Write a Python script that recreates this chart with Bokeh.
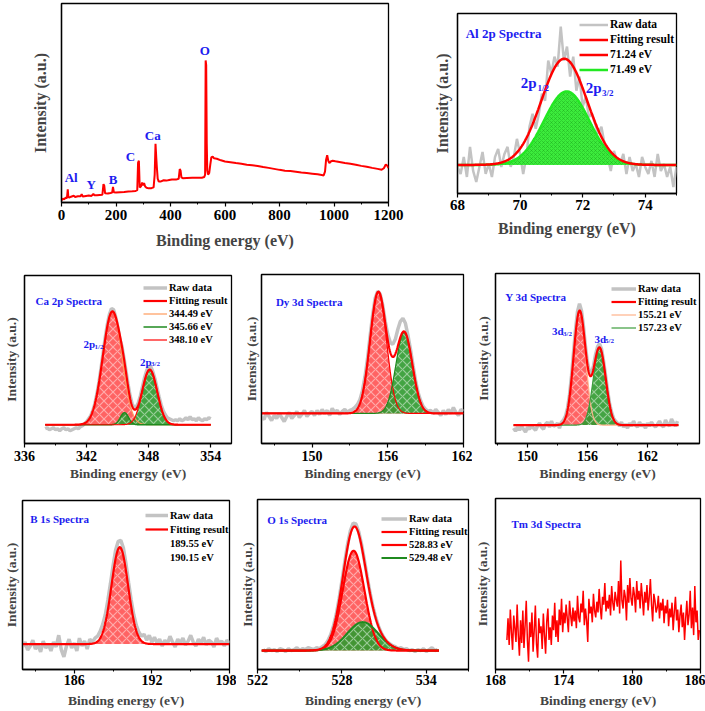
import numpy as np
from bokeh.plotting import figure
from bokeh.models import Range1d, Legend, LegendItem, Label, SingleIntervalTicker, FixedTicker
from bokeh.layouts import column, row
from bokeh.embed import file_html
from bokeh.resources import INLINE

FONT = "Liberation Serif"
RED = "#ff0000"
GRAY = "#c3c3c3"
BLUE = "#1c1cf0"
ORANGE = "#ff9a5c"
DKGREEN = "#1f8a1f"
LIME = "#22e822"
RED_FILL = "#ff5252"
GREEN_FILL = "#2f9a2f"

# ---------------- data: survey ----------------
SURVEY_E = [0, 5, 10, 15, 20, 23, 25, 28, 35, 45, 50, 60, 70, 74, 78, 90, 100, 110, 117, 121,
            130, 140, 150, 154, 157, 160, 170, 180, 186, 189, 192, 200, 215, 230, 245, 260, 272,
            278, 281, 284, 287, 292, 296, 299, 303, 307, 312, 320, 330, 338, 342, 345, 348, 350,
            353, 357, 365, 375, 385, 395, 405, 420, 430, 434, 437, 440, 445, 460, 480, 500, 515,
            524, 527, 529, 531, 533, 535, 538, 542, 546, 550, 555, 560, 570, 585, 600, 620, 640,
            660, 680, 700, 720, 740, 760, 780, 800, 820, 840, 860, 880, 900, 920, 940, 955, 962,
            967, 971, 975, 979, 983, 988, 995, 1005, 1020, 1040, 1060, 1080, 1100, 1120, 1140,
            1160, 1175, 1183, 1190, 1195, 1200]
SURVEY_I = [1.0, 2.0, 1.6, 2.4, 2.2, 6.6, 3.0, 2.4, 2.9, 3.4, 2.8, 3.1, 3.2, 4.2, 3.0, 3.3, 3.5,
            3.3, 4.3, 3.6, 3.7, 3.8, 3.9, 9.2, 8.4, 4.6, 4.5, 4.8, 5.0, 7.9, 5.2, 5.0, 5.2, 5.3,
            5.5, 5.6, 5.8, 6.2, 20.0, 21.0, 7.5, 8.2, 10.0, 8.6, 9.8, 8.0, 7.4, 7.1, 7.2, 7.6,
            14.0, 29.5, 22.0, 17.5, 12.0, 10.5, 10.6, 11.2, 11.0, 11.3, 11.6, 11.5, 11.9, 16.8,
            16.0, 12.6, 12.2, 12.3, 12.4, 12.5, 12.4, 12.8, 14.0, 71.4, 69.0, 30.0, 16.0, 14.0,
            14.8, 19.0, 22.8, 23.0, 22.2, 22.0, 21.2, 20.6, 20.2, 19.8, 19.5, 19.0, 18.7, 18.3,
            17.8, 17.4, 16.9, 16.4, 16.0, 15.8, 15.5, 15.1, 14.8, 14.5, 14.2, 13.8, 13.6, 15.5,
            21.5, 23.8, 21.0, 19.8, 20.6, 21.0, 20.7, 20.4, 19.9, 19.5, 19.0, 18.4, 18.0, 17.4,
            16.9, 16.5, 17.2, 19.1, 18.6, 17.3]
SURVEY_LABELS = ["Al", "Y", "B", "C", "Ca", "O"]
SURVEY_LABEL_E = [35.6, 109, 189.7, 253, 335, 526]
SURVEY_LABEL_I = [12.4, 8.9, 11.6, 23.1, 33.8, 76.4]

# ---------------- data: Al 2p ----------------
AL_RAW_RANGE = (68.0, 75.0)
AL_RAW = [-2, -9, 8, -12, 18, -6, -17, -2, 13, -9, 1, -12, 8, 16, -2, 11, 18, -2, 8, 26,
          11, -9, 8, 38, 51, 36, 51, 71, 64, 104, 91, 108, 98, 138, 104, 118, 88, 108, 74, 88,
          58, 68, 48, 51, 41, 31, 38, 21, 8, -6, 14, 4, 1, 11, -9, 8, -6, 1, -12, 8,
          -2, -9, 4, -12, 11, -6, 1, -12, -2, -22, -2]
AL_CENTERS = [71.24, 71.49]
AL_HEIGHTS = [34, 73.3]
AL_SIGMAS = [0.72, 0.72]

# ---------------- data: Ca 2p ----------------
CA_RAW_RANGE = (338.0, 354.0)
CA_RAW = [-4, -3, -5, -4, -3, -5, -4, -6, -4, -3, -5, -4, -6, -5, -4, -3, -4, -2, -1, 1,
          3, 6, 9, 14, 21, 31, 43, 57, 72, 87, 100, 110, 116, 115, 108, 98, 86, 79, 67, 54,
          41, 29, 21, 17, 18, 22, 29, 38, 47, 54, 58, 58, 53, 46, 37, 28, 20, 14, 10, 7,
          6, 5, 4, 5, 4, 6, 4, 5, 7, 5, 8, 5, 6, 4, 7, 5, 4, 6, 5, 7, 6]
CA_CENTERS = [344.49, 345.66, 348.10]
CA_HEIGHTS = [113, 12, 55]
CA_SIGMAS = [0.92, 0.40, 0.72]

# ---------------- data: Dy 3d ----------------
DY_RAW_RANGE = (146.0, 162.0)
DY_RAW = [-4, -6, 1, -3, -7, -2, -5, 0, -4, -8, -3, 1, -5, -2, 2, -4, -1, 3, -3, 0,
          2, -2, 3, -1, 4, 0, 3, -2, 5, 1, 3, -1, 2, 4, 1, 3, 4, 6, 9, 14,
          23, 37, 55, 77, 98, 115, 122, 119, 108, 92, 79, 71, 69, 74, 84, 92, 95, 90, 78, 64,
          48, 33, 21, 13, 7, 4, 2, 3, 0, 4, 1, -2, 3, -1, 4, 0, 6, 1, -2, 4, 2]
DY_CENTERS = [155.25, 157.30]
DY_HEIGHTS = [121, 81]
DY_SIGMAS = [0.65, 0.65]

# ---------------- data: Y 3d ----------------
Y_RAW_RANGE = (148.6, 165.0)
Y_RAW = [-3, -6, -2, -5, -1, -4, -7, -2, -4, 0, -3, -5, -1, 2, -2, -4, 1, 3, -2, 4,
         -1, 0, 2, -3, 3, 5, 9, 17, 30, 49, 72, 95, 113, 121, 114, 98, 78, 62, 53, 52,
         59, 70, 78, 81, 76, 64, 50, 35, 22, 13, 7, 4, 2, -1, 3, -2, 1, -3, 2, -1,
         4, 0, -2, 3, -1, 1, -3, 2, -1, 3, 0, -2, 1, 4, 0, -2, 5, 1, -1, 6, 2, -1, 4]
Y_CENTERS = [155.21, 157.20]
Y_HEIGHTS = [113.7, 77]
Y_SIGMAS = [0.60, 0.62]

# ---------------- data: B 1s ----------------
B_RAW_RANGE = (182.0, 198.0)
B_RAW = [-3, 2, -6, -2, 4, -5, -1, -8, 3, -4, 0, -7, 2, -3, 9, -6, -13, -2, 5, -4,
         1, -7, 6, -2, 3, -5, 5, 2, 6, 8, 13, 20, 30, 45, 62, 80, 96, 105, 106, 98,
         82, 63, 45, 30, 19, 12, 8, 10, 4, 9, 2, 7, 1, 5, -2, 4, 0, 8, 2, -3,
         5, 1, 6, -1, 3, 9, 2, -2, 5, 1, 7, -1, 4, 2, -3, 6, 1, 3, -2, 4, 1]
B_CENTERS = [189.52]
B_HEIGHTS = [99]
B_SIGMAS = [0.64]

# ---------------- data: O 1s ----------------
O_RAW_RANGE = (522.4, 534.8)
O_RAW = [1, -1, 2, 0, 1, -1, 2, 1, -1, 2, 0, 1, 3, 0, 2, 1, 3, 2, 1, 3,
         2, 4, 6, 10, 16, 25, 37, 53, 71, 90, 108, 122, 130, 129, 121, 108, 92, 75, 59, 45,
         34, 25, 18, 13, 9, 7, 5, 4, 2, 3, 1, 2, 0, 1, -1, 1, 0, 2, -1, 1, 3, 0, 1]
O_CENTERS = [528.83, 529.48]
O_HEIGHTS = [101.7, 29]
O_SIGMAS = [0.77, 1.10]

# ---------------- data: Tm 3d ----------------
TM_RANGE = (169.0, 185.9)
TM_I = [30, 52, 25, 61, 38, 20, 55, 42, 28, 66,
        35, 14, 50, 27, 60, 22, 45, 70, 30, 8,
        48, 33, 58, 18, 40, 65, 26, 12, 52, 37,
        44, 21, 57, 35, 16, 49, 62, 30, 43, 25,
        55, 40, 68, 33, 50, 28, 61, 45, 72, 38,
        58, 47, 66, 52, 38, 70, 55, 44, 63, 49,
        60, 42, 75, 53, 48, 67, 58, 80, 45, 62,
        50, 28, 72, 57, 64, 48, 77, 60, 53, 69,
        58, 82, 63, 51, 74, 66, 88, 59, 70, 62,
        76, 55, 85, 68, 60, 79, 71, 64, 90, 57,
        111, 70, 62, 81, 74, 50, 86, 68, 93, 72,
        65, 84, 76, 58, 90, 71, 80, 62, 88, 73,
        55, 79, 68, 86, 60, 74, 92, 66, 49, 77,
        70, 58, 63, 75, 52, 68, 60, 72, 47, 65,
        57, 71, 44, 62, 53, 68, 40, 59, 74, 50,
        61, 38, 55, 66, 43, 58, 30, 52, 70, 45,
        56, 80, 42, 63, 35, 85, 48, 60, 30, 40]


def gauss(x, c, h, s):
    return h * np.exp(-((x - c) ** 2) / (2.0 * s * s))


def grid(rng, n):
    return np.linspace(rng[0], rng[1], n)


def make_fig(w, h, xr, yr, borders, major, tick_px, lab_px, ylab_standoff=6,
             xlab_standoff=4, tick_standoff=1):
    left, right, top, bottom = borders
    p = figure(width=w, height=h, x_range=Range1d(*xr), y_range=Range1d(*yr),
               output_backend="svg", toolbar_location=None, title=None,
               min_border_left=left, min_border_right=right,
               min_border_top=top, min_border_bottom=bottom)
    p.xgrid.visible = False
    p.ygrid.visible = False
    p.outline_line_color = "black"
    p.outline_line_width = 1.3
    p.outline_line_alpha = 1.0
    p.background_fill_color = "white"
    p.border_fill_color = "white"
    xa = p.xaxis[0]
    xa.ticker = SingleIntervalTicker(interval=major, num_minor_ticks=2)
    xa.axis_label = "Binding energy (eV)"
    xa.axis_label_text_font = FONT
    xa.axis_label_text_font_style = "bold"
    xa.axis_label_text_font_size = lab_px
    xa.axis_label_standoff = xlab_standoff
    xa.major_label_text_font = FONT
    xa.major_label_text_font_style = "bold"
    xa.major_label_text_font_size = tick_px
    xa.major_label_text_color = "black"
    xa.major_label_standoff = tick_standoff
    xa.major_tick_in = 0
    xa.major_tick_out = 4
    xa.minor_tick_in = 0
    xa.minor_tick_out = 2
    xa.axis_line_width = 1.3
    xa.major_tick_line_width = 1.2
    ya = p.yaxis[0]
    ya.ticker = FixedTicker(ticks=[])
    ya.axis_label = "Intensity (a.u.)"
    ya.axis_label_text_font = FONT
    ya.axis_label_text_font_style = "bold"
    ya.axis_label_text_font_size = lab_px
    ya.axis_label_standoff = ylab_standoff
    ya.major_tick_in = 0
    ya.major_tick_out = 0
    ya.minor_tick_in = 0
    ya.minor_tick_out = 0
    ya.major_label_standoff = 0
    ya.axis_line_width = 1.3
    return p


def add_text(p, x, y, text, size, color=BLUE, align="left", baseline="alphabetic"):
    p.add_layout(Label(x=x, y=y, text=text, text_font=FONT, text_font_style="bold",
                       text_font_size=size, text_color=color, text_align=align,
                       text_baseline=baseline))


def add_legend(p, entries, vx, vy, glyph_w, row_h, font_px="10.5px"):
    items = [LegendItem(label=lab, renderers=[r]) for lab, r in entries]
    leg = Legend(items=items, location=(vx, vy), orientation="vertical",
                 glyph_width=glyph_w, glyph_height=row_h, label_height=row_h,
                 label_standoff=2, spacing=0, padding=0, margin=0,
                 label_text_font=FONT, label_text_font_style="bold",
                 label_text_font_size=font_px, label_text_color="black",
                 border_line_alpha=0, background_fill_alpha=0)
    p.add_layout(leg)


def fill_area(p, x, y, color, hatch_color="white", hatch_alpha=0.45, scale=9, weight=1.2, alpha=0.9):
    p.varea(x=x, y1=0, y2=y, fill_color=color, fill_alpha=alpha,
            hatch_pattern="diagonal_cross", hatch_color=hatch_color, hatch_alpha=hatch_alpha,
            hatch_scale=scale, hatch_weight=weight)


# ================= Survey =================
p1 = make_fig(413, 252, (0, 1200), (0, 100), (61, 25, 3, 50), 200, "15px", "16px",
              ylab_standoff=13, xlab_standoff=9, tick_standoff=3)
p1.line(SURVEY_E, SURVEY_I, line_color=RED, line_width=2)
for lab, ex, iy in zip(SURVEY_LABELS, SURVEY_LABEL_E, SURVEY_LABEL_I):
    add_text(p1, ex, iy, lab, "13px", align="center", baseline="middle")

# ================= Al 2p =================
p2 = make_fig(292, 252, (68, 75), (-28.5, 151), (44, 29, 13, 59), 2, "15px", "16px",
              ylab_standoff=7, xlab_standoff=7, tick_standoff=2)
al_x = grid(AL_RAW_RANGE, len(AL_RAW))
r_al_raw = p2.line(al_x, AL_RAW, line_color=GRAY, line_width=2.5)
al_fx = np.linspace(68, 75, 500)
al_c1 = gauss(al_fx, AL_CENTERS[0], AL_HEIGHTS[0], AL_SIGMAS[0])
al_c2 = gauss(al_fx, AL_CENTERS[1], AL_HEIGHTS[1], AL_SIGMAS[1])
fill_area(p2, al_fx, al_c2, "#3cec3c", hatch_color="#149a14", hatch_alpha=0.45, scale=4, weight=0.8, alpha=1.0)
r_al_g = p2.line(al_fx, al_c2, line_color=LIME, line_width=2.5)
r_al_fit = p2.line(al_fx, al_c1 + al_c2, line_color=RED, line_width=2.5)
add_text(p2, 68.26, 131, "Al 2p Spectra", "13px")
add_text(p2, 70.02, 82, "2p", "15px")
add_text(p2, 70.56, 77, "1/2", "9px")
add_text(p2, 72.1, 77, "2p", "15px")
add_text(p2, 72.62, 72, "3/2", "9px")
add_legend(p2, [("Raw data", r_al_raw), ("Fitting result", r_al_fit),
                ("71.24 eV", r_al_fit), ("71.49 eV", r_al_g)],
           122, 116.5, 29, 15, "11.5px")

# ================= Ca 2p =================
p3 = make_fig(240, 233, (336, 356), (-18.7, 149), (23, 9, 23, 42), 6, "14px", "13.5px",
              ylab_standoff=6, xlab_standoff=2, tick_standoff=3)
ca_x = grid(CA_RAW_RANGE, len(CA_RAW))
r_ca_raw = p3.line(ca_x, CA_RAW, line_color=GRAY, line_width=3.5)
ca_fx = np.linspace(338, 354, 500)
ca_c = [gauss(ca_fx, c, h, s) for c, h, s in zip(CA_CENTERS, CA_HEIGHTS, CA_SIGMAS)]
fill_area(p3, ca_fx, ca_c[0], RED_FILL)
fill_area(p3, ca_fx, ca_c[1], GREEN_FILL)
fill_area(p3, ca_fx, ca_c[2], GREEN_FILL)
r_ca_1 = p3.line(ca_fx, ca_c[0], line_color=ORANGE, line_width=1.2)
r_ca_2 = p3.line(ca_fx, ca_c[1], line_color=DKGREEN, line_width=1.5)
r_ca_3 = p3.line(ca_fx, ca_c[2], line_color=RED, line_width=1.2)
r_ca_fit = p3.line(ca_fx, ca_c[0] + ca_c[1] + ca_c[2], line_color=RED, line_width=2.2)
add_text(p3, 337.06, 124, "Ca 2p Spectra", "11px")
add_text(p3, 341.71, 80.7, "2p", "11px")
add_text(p3, 342.77, 78, "1/2", "7px")
add_text(p3, 347.16, 63, "2p", "11px")
add_text(p3, 348.22, 60.7, "3/2", "7px")
add_legend(p3, [("Raw data", r_ca_raw), ("Fitting result", r_ca_fit), ("344.49 eV", r_ca_1),
                ("345.66 eV", r_ca_2), ("348.10 eV", r_ca_3)],
           119, 97, 24, 13)

# ================= Dy 3d =================
p4 = make_fig(232, 233, (146, 162), (-30, 138.7), (15, 9, 22, 42), 6, "14px", "13.5px",
              ylab_standoff=3, xlab_standoff=2, tick_standoff=3)
dy_x = grid(DY_RAW_RANGE, len(DY_RAW))
p4.line(dy_x, DY_RAW, line_color=GRAY, line_width=3.5)
dy_fx = np.linspace(146, 162, 500)
dy_c = [gauss(dy_fx, c, h, s) for c, h, s in zip(DY_CENTERS, DY_HEIGHTS, DY_SIGMAS)]
fill_area(p4, dy_fx, dy_c[0], RED_FILL)
fill_area(p4, dy_fx, dy_c[1], GREEN_FILL)
p4.line(dy_fx, dy_c[0], line_color=RED, line_width=1.2)
p4.line(dy_fx, dy_c[1], line_color=DKGREEN, line_width=1.2)
p4.line(dy_fx, dy_c[0] + dy_c[1], line_color=RED, line_width=2.2)
add_text(p4, 147.14, 111.3, "Dy 3d Spectra", "11px")

# ================= Y 3d =================
p5 = make_fig(233, 233, (146.8, 167.2), (-18.3, 151), (18, 6, 21, 42), 6, "14px", "13.5px",
              ylab_standoff=5, xlab_standoff=2, tick_standoff=3)
y_x = grid(Y_RAW_RANGE, len(Y_RAW))
r_y_raw = p5.line(y_x, Y_RAW, line_color=GRAY, line_width=3.5)
y_fx = np.linspace(148.6, 165.1, 500)
y_c = [gauss(y_fx, c, h, s) for c, h, s in zip(Y_CENTERS, Y_HEIGHTS, Y_SIGMAS)]
fill_area(p5, y_fx, y_c[0], RED_FILL)
fill_area(p5, y_fx, y_c[1], GREEN_FILL)
r_y_1 = p5.line(y_fx, y_c[0], line_color="#ffb38a", line_width=1.2)
r_y_2 = p5.line(y_fx, y_c[1], line_color="#3c9c3c", line_width=1.2)
r_y_fit = p5.line(y_fx, y_c[0] + y_c[1], line_color=RED, line_width=2.2)
add_text(p5, 147.78, 127.7, "Y 3d Spectra", "11px")
add_text(p5, 152.45, 93.3, "3d", "11px")
add_text(p5, 153.55, 91, "3/2", "7px")
add_text(p5, 156.7, 86, "3d", "11px")
add_text(p5, 157.75, 83.3, "5/2", "7px")
add_legend(p5, [("Raw data", r_y_raw), ("Fitting result", r_y_fit),
                ("155.21 eV", r_y_1), ("157.23 eV", r_y_2)],
           116, 109, 25, 13)

# ================= B 1s =================
p6 = make_fig(236, 225, (182, 198), (-26, 146.7), (19, 7, 15, 37), 6, "14px", "13.5px",
              ylab_standoff=4, xlab_standoff=5, tick_standoff=1)
b_x = grid(B_RAW_RANGE, len(B_RAW))
r_b_raw = p6.line(b_x, B_RAW, line_color=GRAY, line_width=3.5)
b_fx = np.linspace(182, 198, 500)
b_fit = gauss(b_fx, B_CENTERS[0], B_HEIGHTS[0], B_SIGMAS[0])
fill_area(p6, b_fx, b_fit, RED_FILL)
r_b_fit = p6.line(b_fx, b_fit, line_color=RED, line_width=2.2)
r_b_none = p6.line([], [], line_color="white", line_alpha=0)
add_text(p6, 182.6, 127.3, "B 1s Spectra", "11px")
add_legend(p6, [("Raw data", r_b_raw), ("Fitting result", r_b_fit),
                ("189.55 eV", r_b_none), ("190.15 eV", r_b_none)],
           123, 105, 23, 14)

# ================= O 1s =================
p7 = make_fig(235, 225, (522, 537), (-19.3, 154), (17, 3, 14, 37), 6, "14px", "13.5px",
              ylab_standoff=3, xlab_standoff=5, tick_standoff=1)
o_x = grid(O_RAW_RANGE, len(O_RAW))
r_o_raw = p7.line(o_x, O_RAW, line_color=GRAY, line_width=3.5)
o_fx = np.linspace(522.3, 534.9, 500)
o_c = [gauss(o_fx, c, h, s) for c, h, s in zip(O_CENTERS, O_HEIGHTS, O_SIGMAS)]
fill_area(p7, o_fx, o_c[0], RED_FILL)
fill_area(p7, o_fx, o_c[1], GREEN_FILL)
r_o_1 = p7.line(o_fx, o_c[0], line_color=RED, line_width=2.2)
r_o_2 = p7.line(o_fx, o_c[1], line_color=DKGREEN, line_width=2.0)
r_o_fit = p7.line(o_fx, o_c[0] + o_c[1], line_color=RED, line_width=2.2)
add_text(p7, 522.69, 133.3, "O 1s Spectra", "11px")
add_legend(p7, [("Raw data", r_o_raw), ("Fitting result", r_o_fit),
                ("528.83 eV", r_o_1), ("529.48 eV", r_o_2)],
           124, 105.5, 26, 13)

# ================= Tm 3d =================
p8 = make_fig(234, 225, (168, 186), (0, 174), (21, 5, 13, 37), 6, "14px", "13.5px",
              ylab_standoff=6, xlab_standoff=5, tick_standoff=1)
tm_x = grid(TM_RANGE, len(TM_I))
p8.line(tm_x, TM_I, line_color=RED, line_width=1.5)
add_text(p8, 169.4, 147.7, "Tm 3d Spectra", "11px")

layout = column(row(column(p1), column(p2)),
                row(column(p3), column(p4), column(p5)),
                row(column(p6), column(p7), column(p8)))
with open("out.html", "w") as f:
    f.write(file_html(layout, INLINE))
